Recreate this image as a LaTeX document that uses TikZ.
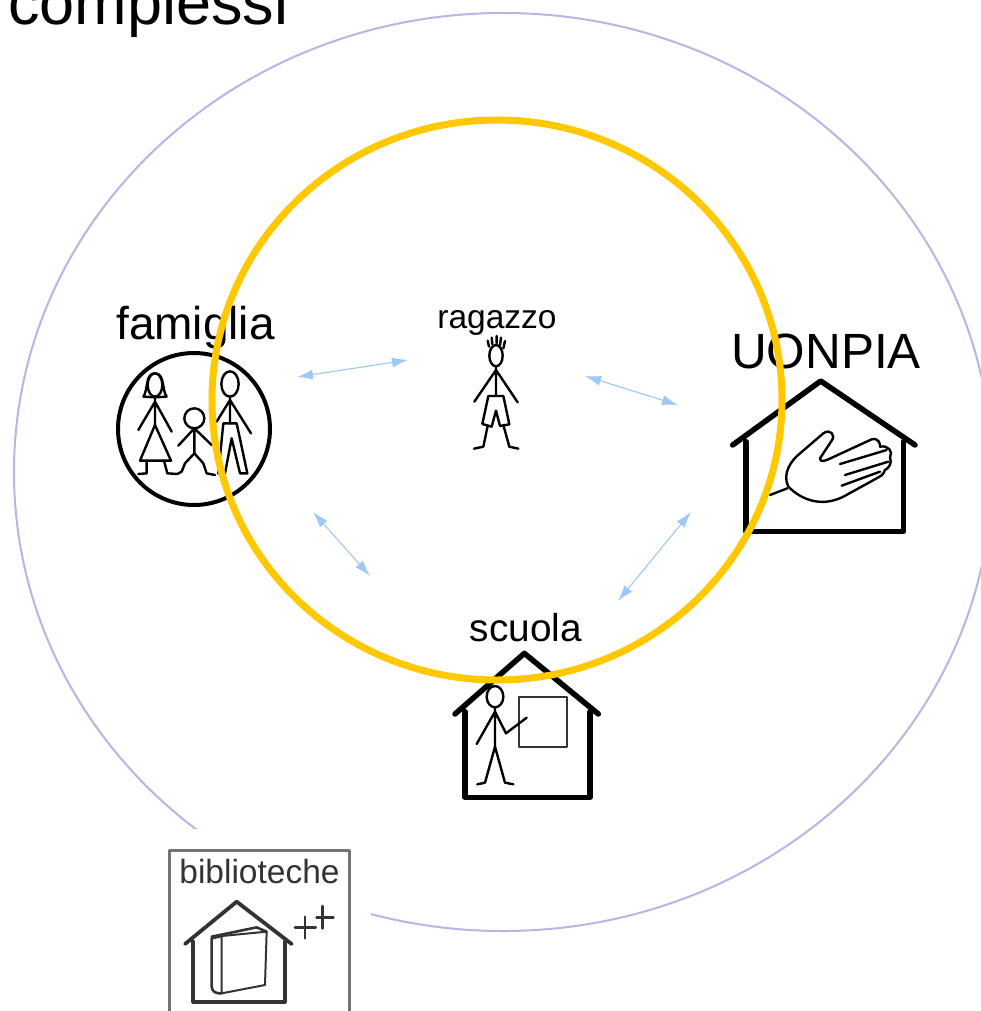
\documentclass[tikz,border=0pt]{standalone}
\usepackage{fontspec}
\setmainfont{Liberation Sans}
\usetikzlibrary{arrows.meta}
\newcommand{\lblsize}[1]{\fontsize{#1}{#1}\selectfont}

\begin{document}
\begin{tikzpicture}[
    x=1pt, y=-1pt,
    line cap=round,
    line join=round,
    outerring/.style={draw=ringblue, line width=2pt},
    innerring/.style={draw=ringyellow, line width=7pt},
    link/.style={draw=linkblue, line width=1.1pt, {Latex[length=16pt,width=10pt]}-{Latex[length=16pt,width=10pt]}},
    label/.style={inner sep=0, anchor=base, text=black},
    figure/.style={draw=black, line width=2.4pt},
    house/.style={draw=black, line width=5.5pt},
    icon/.style={x=1pt/3, y=-1pt/3},
  ]
\definecolor{ringblue}{HTML}{B6B6E4}
\definecolor{ringyellow}{HTML}{FFC800}
\definecolor{linkblue}{HTML}{9CC9F6}
\definecolor{darktext}{HTML}{333333}
\clip (0,0) rectangle (981,1011);
\fill[white] (0,0) rectangle (981,1011);

\draw[outerring] (503,472) ellipse [x radius=489, y radius=459];
\node[label, anchor=base west, font=\lblsize{63}] (titlelbl) at (8,25) {complessi};

% famiglia
\node[label, font=\lblsize{46}] (famiglialbl) at (195.5,339) {famiglia};
\begin{scope}[shift={(90,290)}, icon]
  \draw[line width=4pt] (312,417) circle [radius=228];
  \draw[figure] (195,285) ellipse [x radius=22, y radius=35];
  \draw[figure] (160,320) .. controls (175,300) and (165,250) .. (195,250) .. controls (225,250) and (215,300) .. (230,320) -- (195,322) -- cycle;
  \draw[figure] (195,325) -- (195,405) (195,335) -- (145,420) (195,335) -- (245,425);
  \draw[figure] (195,405) -- (150,512) -- (243,512) -- cycle;
  \draw[figure] (170,512) -- (170,550) -- (145,552) (222,512) -- (232,550) -- (262,552) -- (275,545) -- (285,520) -- (313,490);
  \draw[figure] (313,385) circle [radius=30];
  \draw[figure] (313,415) -- (313,490) (313,415) -- (265,467) (313,415) -- (365,465);
  \draw[figure] (313,490) -- (340,520) -- (350,550) -- (375,555);
  \draw[figure] (420,282) ellipse [x radius=26, y radius=38];
  \draw[figure] (420,320) -- (420,400) (420,330) -- (380,395) (420,330) -- (483,430);
  \draw[figure] (400,400) -- (440,400) -- (472,550) -- (450,550) -- (425,445) -- (405,550) -- (385,550) -- cycle;
\end{scope}

% ragazzo
\node[label, font=\lblsize{33.5}] (ragazzolbl) at (497,328) {ragazzo};
\begin{scope}[shift={(420,290)}, icon]
  \draw[figure] (228,197) ellipse [x radius=20, y radius=32];
  \draw[figure] (207,170) -- (203,152) (217,163) -- (215,143) (230,160) -- (230,138) (240,165) -- (243,143) (250,175) -- (255,153);
  \draw[figure] (228,232) -- (228,315) (228,240) -- (163,335) (228,240) -- (293,337);
  \draw[figure] (205,318) -- (250,318) -- (268,403) -- (240,408) -- (228,362) -- (215,410) -- (187,402) -- cycle;
  \draw[figure] (203,408) -- (190,470) -- (162,476) (250,405) -- (268,470) -- (295,476);
\end{scope}

% UONPIA
\node[label, font=\lblsize{49.5}] (uonpialbl) at (826,368) {UONPIA};
\begin{scope}[shift={(710,320)}, icon]
  \draw[house] (68,375) -- (332,183) -- (615,375);
  \draw[house] (108,365) -- (108,635) -- (580,635) -- (580,365);
  \draw[figure] (180,525) -- (232,505);
  \draw[figure] (235,500) .. controls (215,460) and (245,420) .. (270,400) -- (340,340) .. controls (360,325) and (378,345) .. (365,362) -- (330,415) .. controls (330,428) and (345,422) .. (355,418) -- (485,358) .. controls (505,352) and (512,372) .. (510,380) .. controls (535,375) and (550,395) .. (540,412) .. controls (548,430) and (535,445) .. (525,450) .. controls (520,465) and (510,470) .. (500,475) -- (400,530) .. controls (340,560) and (280,545) .. (235,500) -- cycle;
  \draw[figure] (390,432) -- (530,390) (405,465) -- (535,425) (395,497) -- (510,455);
\end{scope}

% scuola
\node[label, font=\lblsize{38.8}] (scuolalbl) at (526,641) {scuola};
\begin{scope}[shift={(430,600)}, icon]
  \draw[house] (75,342) -- (283,160) -- (505,342);
  \draw[house] (105,335) -- (105,592) -- (480,592) -- (480,335);
  \draw[draw=black!80, line width=2.2pt] (268,290) rectangle (410,442);
  \draw[figure] (195,290) ellipse [x radius=25, y radius=32];
  \draw[figure] (195,322) -- (195,440) (195,335) -- (140,432) (195,335) -- (228,400) -- (290,353);
  \draw[figure] (142,553) -- (165,548) -- (195,440) -- (225,548) -- (250,553);
\end{scope}

\coordinate (famiglia-e) at (297,377);
\coordinate (famiglia-s) at (313,512);
\coordinate (ragazzo-w) at (408,360);
\coordinate (ragazzo-e) at (585,376);
\coordinate (uonpia-w) at (678,405);
\coordinate (uonpia-s) at (691,512);
\coordinate (scuola-w) at (370,576);
\coordinate (scuola-e) at (618,601);
\draw[link] (famiglia-e) -- (ragazzo-w);
\draw[link] (ragazzo-e) -- (uonpia-w);
\draw[link] (famiglia-s) -- (scuola-w);
\draw[link] (uonpia-s) -- (scuola-e);

\draw[innerring] (497,400) ellipse [x radius=285, y radius=280];

% biblioteche
\fill[white] (160,829) rectangle (371,1011);
\begin{scope}[shift={(150,820)}, icon]
  \draw[draw=black!55, line width=2.4pt] (58,640) -- (58,92) -- (598,92) -- (598,640);
\end{scope}
\node[label, text=darktext, font=\lblsize{33.5}] (bibliotechelbl) at (259.5,883) {biblioteche};
\begin{scope}[shift={(150,820)}, icon, every path/.style={draw=darktext}]
  \draw[line width=3.8pt] (105,372) -- (260,245) -- (425,372);
  \draw[line width=3.8pt] (130,365) -- (130,545) -- (405,545) -- (405,365);
  \draw[line width=2pt] (215,348) -- (350,335) -- (345,495) -- (215,520) -- cycle;
  \draw[line width=2.6pt] (215,348) -- (185,355) -- (185,500) .. controls (185,515) and (200,522) .. (215,520);
  \draw[line width=2.6pt] (185,350) -- (320,322) -- (350,335);
  \draw[line width=2.8pt] (435,322) -- (497,322) (465,290) -- (465,355) (500,292) -- (550,292) (517,258) -- (517,325);
\end{scope}
\end{tikzpicture}
\end{document}
